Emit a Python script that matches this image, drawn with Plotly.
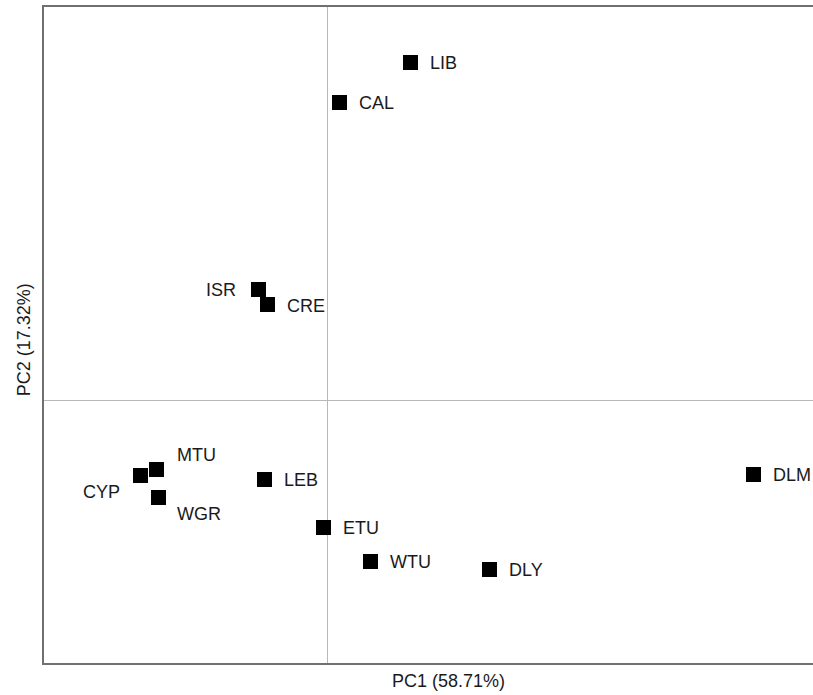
import plotly.graph_objects as go

# Population scores on the first two principal components
populations = ["LIB", "CAL", "ISR", "CRE", "MTU", "CYP", "WGR", "LEB", "ETU", "WTU", "DLY", "DLM"]
pc1_scores = [0.83, 0.12, -0.69, -0.60, -1.71, -1.87, -1.69, -0.63, -0.04, 0.43, 1.62, 4.26]
pc2_scores = [3.38, 2.98, 1.11, 0.96, -0.69, -0.75, -0.97, -0.79, -1.27, -1.61, -1.69, -0.74]

pc1_label = "PC1 (58.71%)"
pc2_label = "PC2 (17.32%)"

# Label placement per population: (anchor side, x offset px, y offset px)
label_place = {
    "LIB": ("left", 17, 0),
    "CAL": ("left", 17, 0),
    "ISR": ("right", -21, 0),
    "CRE": ("left", 17, -1),
    "MTU": ("left", 18, 15),
    "CYP": ("right", -19, -16),
    "WGR": ("left", 16, -16),
    "LEB": ("left", 17, 0),
    "ETU": ("left", 17, 0),
    "WTU": ("left", 17, 0),
    "DLY": ("left", 17, 0),
    "DLM": ("left", 17, 0),
}

FONT = "Liberation Sans, Arial, Helvetica, sans-serif"

fig = go.Figure()
fig.add_trace(go.Scatter(
    x=pc1_scores,
    y=pc2_scores,
    mode="markers",
    marker=dict(symbol="square", size=15, color="#000000", line=dict(width=0)),
    hoverinfo="text",
    text=populations,
    showlegend=False,
))

annotations = []
for name, px, py in zip(populations, pc1_scores, pc2_scores):
    side, dx, dy = label_place[name]
    annotations.append(dict(
        x=px, y=py, xref="x", yref="y",
        text=name, showarrow=False,
        xanchor=side, yanchor="middle",
        xshift=dx, yshift=dy,
        font=dict(family=FONT, size=18, color="#1a1a1a"),
    ))

# Axis titles
annotations.append(dict(
    x=0.526, y=-0.0274, xref="paper", yref="paper",
    text=pc1_label, showarrow=False, xanchor="center", yanchor="middle",
    font=dict(family=FONT, size=18, color="#1a1a1a"),
))
annotations.append(dict(
    x=-0.026, y=0.492, xref="paper", yref="paper",
    text=pc2_label, showarrow=False, xanchor="center", yanchor="middle",
    textangle=-90,
    font=dict(family=FONT, size=18, color="#1a1a1a"),
))

fig.update_layout(
    width=813,
    height=695,
    margin=dict(l=44, r=0, t=7, b=32),
    paper_bgcolor="white",
    plot_bgcolor="white",
    annotations=annotations,
    xaxis=dict(
        range=[-2.835, 4.855],
        showgrid=False,
        showticklabels=False,
        ticks="",
        showline=True,
        mirror=True,
        linecolor="#707070",
        linewidth=2,
        zeroline=True,
        zerolinecolor="#b8b8b8",
        zerolinewidth=1,
        fixedrange=True,
    ),
    yaxis=dict(
        range=[-2.625, 3.935],
        showgrid=False,
        showticklabels=False,
        ticks="",
        showline=True,
        mirror=False,
        linecolor="#707070",
        linewidth=2,
        zeroline=True,
        zerolinecolor="#b8b8b8",
        zerolinewidth=1,
        fixedrange=True,
    ),
)

fig.write_html("out.html")
